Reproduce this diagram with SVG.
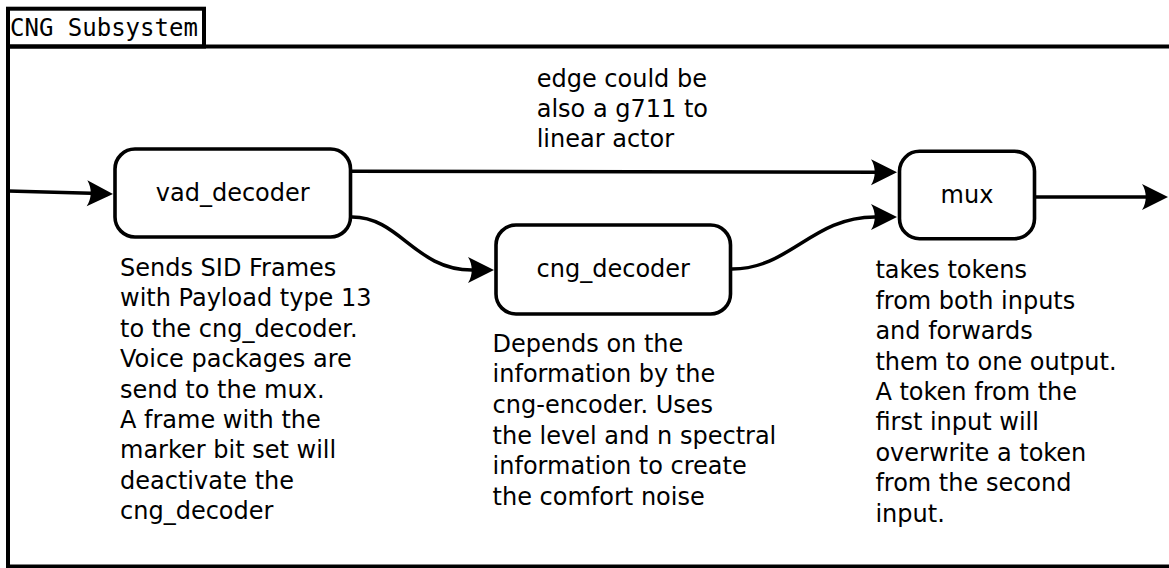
<svg xmlns="http://www.w3.org/2000/svg" width="1169" height="568" viewBox="0 0 1169 568">
  <style>
    .frame { fill: none; stroke: #000; stroke-width: 4; }
    .node rect { fill: #fff; stroke: #000; stroke-width: 3.6; }
    .node text { font-family: "DejaVu Sans", sans-serif; font-size: 24px; fill: #000; text-anchor: middle; }
    .note { font-family: "DejaVu Sans", sans-serif; font-size: 24px; fill: #000; }
    .title { font-family: "DejaVu Sans Mono", monospace; font-size: 24px; fill: #000; }
    .edge { fill: none; stroke: #000; stroke-width: 3.5; marker-end: url(#arrow); }
  </style>
  <defs>
    <marker id="arrow" markerUnits="userSpaceOnUse" markerWidth="40" markerHeight="40" refX="4" refY="0" orient="auto" overflow="visible" viewBox="-10 -20 40 40">
      <path d="M26,0 L0,-13 C5,-5 5,5 0,13 Z" fill="#000"/>
    </marker>
  </defs>
  <rect width="1169" height="568" fill="#fff"/>

  <g id="frame">
    <rect class="frame" x="8" y="46.5" width="1172" height="520"/>
    <rect class="frame" x="8" y="8.7" width="196" height="37.8" fill="#fff"/>
    <text class="title" x="10" y="35.7">CNG Subsystem</text>
  </g>

  <g id="connectors">
    <path class="edge" d="M8,191 L91,193.3"/>
    <path class="edge" d="M352,171.3 L875,172.3"/>
    <path class="edge" d="M352,217 C400,217 415,270 472,270"/>
    <path class="edge" d="M732,269 C790,269 812,217 875,217"/>
    <path class="edge" d="M1036,197 L1146,197"/>
  </g>

  <g id="vad_decoder" class="node">
    <rect x="115" y="149" width="235.5" height="88" rx="20" ry="20"/>
    <text x="232.7" y="201">vad_decoder</text>
  </g>
  <g id="cng_decoder" class="node">
    <rect x="496" y="225" width="234.5" height="89" rx="20" ry="20"/>
    <text x="613.3" y="277">cng_decoder</text>
  </g>
  <g id="mux" class="node">
    <rect x="899.5" y="151.3" width="135" height="87.4" rx="20" ry="20"/>
    <text x="967" y="202.7">mux</text>
  </g>

  <g id="note_edge">
    <text class="note" x="536.7" y="86.7">edge could be</text>
    <text class="note" x="536.7" y="117">also a g711 to</text>
    <text class="note" x="536.7" y="147">linear actor</text>
  </g>

  <g id="note_vad">
    <text class="note" x="120" y="276">Sends SID Frames</text>
    <text class="note" x="120" y="306.4">with Payload type 13</text>
    <text class="note" x="120" y="336.8">to the cng_decoder.</text>
    <text class="note" x="120" y="367.2">Voice packages are</text>
    <text class="note" x="120" y="397.6">send to the mux.</text>
    <text class="note" x="120" y="428">A frame with the</text>
    <text class="note" x="120" y="458.4">marker bit set will</text>
    <text class="note" x="120" y="488.8">deactivate the</text>
    <text class="note" x="120" y="519.2">cng_decoder</text>
  </g>

  <g id="note_cng">
    <text class="note" x="492.6" y="351.7">Depends on the</text>
    <text class="note" x="492.6" y="382.3">information by the</text>
    <text class="note" x="492.6" y="412.9">cng-encoder. Uses</text>
    <text class="note" x="492.6" y="443.5">the level and n spectral</text>
    <text class="note" x="492.6" y="474.1">information to create</text>
    <text class="note" x="492.6" y="504.7">the comfort noise</text>
  </g>

  <g id="note_mux">
    <text class="note" x="875.4" y="278.3">takes tokens</text>
    <text class="note" x="875.4" y="308.7">from both inputs</text>
    <text class="note" x="875.4" y="339.1">and forwards</text>
    <text class="note" x="875.4" y="369.5">them to one output.</text>
    <text class="note" x="875.4" y="399.9">A token from the</text>
    <text class="note" x="875.4" y="430.3">first input will</text>
    <text class="note" x="875.4" y="460.7">overwrite a token</text>
    <text class="note" x="875.4" y="491.1">from the second</text>
    <text class="note" x="875.4" y="521.5">input.</text>
  </g>
</svg>
